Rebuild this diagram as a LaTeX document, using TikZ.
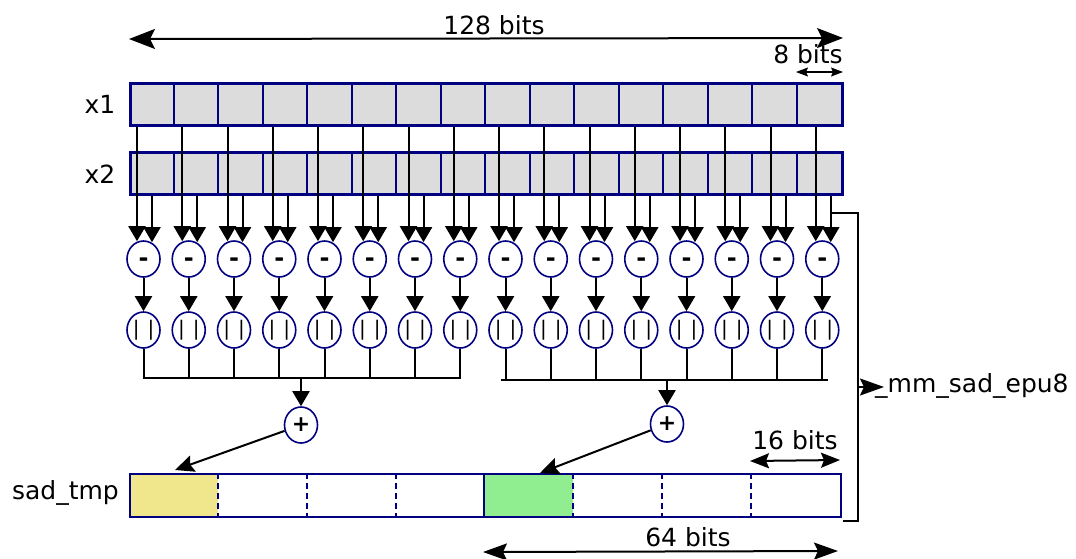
\documentclass[tikz,border=0pt]{standalone}
\usepackage{fontspec}
\setmainfont{DejaVu Sans}
\usetikzlibrary{arrows.meta,shapes.geometric,calc}
\definecolor{navy}{HTML}{000080}
\definecolor{regfill}{HTML}{DCDCDC}
\definecolor{khakic}{HTML}{F0E68C}
\definecolor{lgreen}{HTML}{90EE90}
\begin{document}
\begin{tikzpicture}[x=1pt,y=-1pt,
  lbl/.style={font=\fontsize{25}{29}\selectfont, inner sep=0},
  reg/.style={draw=navy, line width=3pt, minimum width=712pt, minimum height=42pt, inner sep=0, anchor=north west},
  op/.style={ellipse, draw=navy, line width=1.6pt, fill=white, minimum width=33pt, minimum height=36pt, inner sep=0},
  arr/.style={line width=2pt, -{Triangle[length=15pt,width=17pt]}},
  wire/.style={line width=2pt},
  bigtip/.tip={Stealth[length=26pt,width=20pt,inset=5pt]},
  dim/.style={line width=2pt, {Stealth[length=24pt,width=17pt,inset=4pt]}-{Stealth[length=24pt,width=17pt,inset=4pt]}},
  divider/.style={navy, line width=2pt},
  dashdiv/.style={navy, line width=2pt, dash pattern=on 6pt off 4pt},
  cellfill/.style={minimum width=89pt, minimum height=43pt, inner sep=0, anchor=north west},
]
\useasboundingbox (0,0) rectangle (1076,558);

% registers
\node[reg, fill=regfill] (X1) at (129,82) {};
\node[reg, fill=regfill] (X2) at (129,151) {};
\foreach \k in {1,...,15} {
  \draw[divider] ($(X1.north west)+(44.5*\k,0)$) -- ($(X1.south west)+(44.5*\k,0)$);
  \draw[divider] ($(X2.north west)+(44.5*\k,0)$) -- ($(X2.south west)+(44.5*\k,0)$);
}
\node[reg, fill=none] at (129,82) {};
\node[reg, fill=none] at (129,151) {};
\node[lbl] (lx1) at (100,104) {x1};
\node[lbl] (lx2) at (100,174) {x2};

% operators
\foreach \i in {0,...,15} {
  \pgfmathsetmacro\cx{143.5+45.25*\i}
  \node[op, font=\fontsize{24}{24}\selectfont\bfseries, text height=14pt, text depth=0pt] (m\i) at (\cx,259) {-};
  \node[op, font=\fontsize{20}{20}\selectfont] (a\i) at (\cx,330) {|\hspace{8pt}|};
  \coordinate (u\i) at ($(m\i.north)+(-6.5,1)$);
  \coordinate (v\i) at ($(m\i.north)+(8.5,2)$);
  \draw[arr] (u\i |- X1.south) -- (u\i);
  \draw[arr] (v\i |- X2.south) -- (v\i);
  \draw[arr] (m\i) -- (a\i);
}

% buses
\coordinate (bL) at (0,378);
\coordinate (bR) at (0,380);
\foreach \i in {0,...,7} { \draw[wire] (a\i.south) -- (a\i.south |- bL); }
\foreach \i in {8,...,15} { \draw[wire] (a\i.south) -- (a\i.south |- bR); }
\coordinate (bL0) at ($(a0.south |- bL)+(-1,0)$);
\coordinate (bL1) at ($(a7.south |- bL)+(1,0)$);
\coordinate (bR0) at ($(a8.south |- bR)+(-5,0)$);
\coordinate (bR1) at ($(a15.south |- bR)+(6,0)$);
\draw[wire] (bL0) -- (bL1);
\draw[wire] (bR0) -- (bR1);

% adders
\node[op, font=\fontsize{22}{22}\selectfont\bfseries] (P1) at (301,425) {+};
\node[op, font=\fontsize{22}{22}\selectfont\bfseries] (P2) at (667,424) {+};
\draw[arr] (P1.north |- bL) -- (P1.north);
\draw[arr] (P2.north |- bR) -- (P2.north);

% sad_tmp
\node[cellfill, fill=khakic] (S0) at (129,473) {};
\node[cellfill, fill=lgreen] (S4) at (484,473) {};
\node[draw=navy, line width=2pt, minimum width=711pt, minimum height=43pt, inner sep=0, anchor=north west] (S) at (129,473) {};
\foreach \x in {89,178,267,444,533,622} {
  \draw[dashdiv] ($(S.north west)+(\x,0)$) -- ($(S.south west)+(\x,0)$);
}
\draw[divider] ($(S.north west)+(355,0)$) -- ($(S.south west)+(355,0)$);
\node[lbl, anchor=east] (lsad) at (119,493) {sad\_tmp};

\coordinate (T1) at (175,470);
\coordinate (T2) at (540,473);
\draw[line width=2pt, -{Stealth[length=19pt,width=17pt,inset=3pt]}] (P1) -- (T1);
\draw[line width=2pt, -{Stealth[length=19pt,width=17pt,inset=3pt]}] (P2) -- (T2);

% dimensions
\coordinate (d128a) at (129,39);
\coordinate (d128b) at (843,38);
\draw[line width=2pt, {bigtip}-{bigtip}] (d128a) -- (d128b);
\node[lbl] (t128) at (494,25) {128 bits};

\coordinate (d8a) at (796,72);
\coordinate (d8b) at (843,72);
\draw[line width=1.3pt, {Stealth[length=12pt,width=9pt,inset=2pt]}-{Stealth[length=12pt,width=9pt,inset=2pt]}] (d8a) -- (d8b);
\node[lbl] (t8) at (808,54) {8 bits};

\coordinate (d16a) at (750,461);
\coordinate (d16b) at (840,460);
\draw[line width=2pt, {Stealth[length=19pt,width=15pt,inset=3pt]}-{Stealth[length=19pt,width=15pt,inset=3pt]}] (d16a) -- (d16b);
\node[lbl] (t16) at (795,440) {16 bits};

\coordinate (d64a) at (483,552);
\coordinate (d64b) at (838,551);
\draw[dim] (d64a) -- (d64b);
\node[lbl] (t64) at (688,537) {64 bits};

% bracket
\coordinate (br0) at ($(X2.south east)+(-13,0)$);
\coordinate (br1) at (858,213);
\coordinate (br2) at (858,521);
\coordinate (br3) at (843,521);
\draw[line width=1.6pt] (br0) -- (br0 |- br1) -- (br1) -- (br2) -- (br3);
\coordinate (ep) at (858,387);
\coordinate (eq) at (884,387);
\draw[line width=2pt, -{Stealth[length=24pt,width=17pt,inset=4pt]}] (ep) -- (eq);
\node[lbl, anchor=west] (tepu) at (875,386) {\_mm\_sad\_epu8};
\end{tikzpicture}
\end{document}
